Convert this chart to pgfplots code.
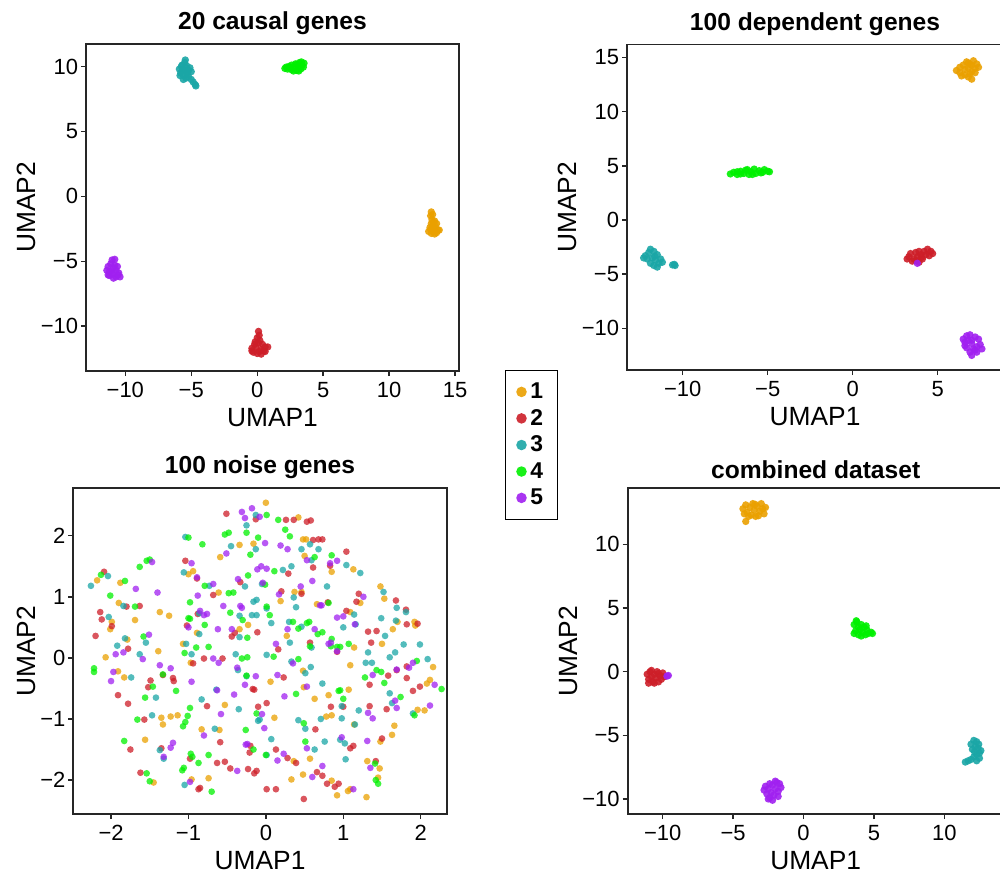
\documentclass[border=0pt]{standalone}
\usepackage{pgfplots}
\pgfplotsset{compat=1.18}
\usepackage{fontspec}
\setmainfont{Liberation Sans}

\definecolor{c1}{RGB}{234,160,0}
\definecolor{c2}{RGB}{205,30,40}
\definecolor{c3}{RGB}{26,166,166}
\definecolor{c4}{RGB}{0,240,0}
\definecolor{c5}{RGB}{160,32,240}

\pgfplotsset{
  umap/.style={
    scale only axis,
    axis line style={line width=1pt, black!85},
    tick style={line width=0.8pt, black!85},
    tick align=outside, tick pos=left,
    major tick length=1mm,
    minor tick num=0,
    tick label style={font=\fontsize{12.5}{15}\selectfont},
    yticklabel style={inner xsep=1.5pt},
    label style={font=\fontsize{15}{18}\selectfont},
    ylabel shift=-0.8mm,
    xlabel style={yshift=0.2mm},
    title style={font=\bfseries\fontsize{14}{16}\selectfont, yshift=-1.5mm},
    xlabel={UMAP1}, ylabel={UMAP2},
    clip=true,
  },
  pts/.style={only marks, mark=*, mark size=1.9pt, color=#1,
    mark options={draw opacity=0, fill opacity=0.75}},
  blob/.style={only marks, mark=*, mark size=2.1pt, color=#1,
    mark options={draw opacity=0, fill opacity=0.9}},
}

\begin{document}
\begin{tikzpicture}

% ---------------- 20 causal genes ----------------
\begin{axis}[umap,
  at={(17.2mm,-74.2mm)}, anchor=south west,
  width=74.6mm, height=65.4mm,
  xmin=-12.98, xmax=15.3, ymin=-13.45, ymax=11.73,
  xtick={-10,-5,0,5,10,15}, xticklabels={−10,−5,0,5,10,15},
  ytick={-10,-5,0,5,10}, yticklabels={−10,−5,0,5,10},
  title={20 causal genes},
  legend style={at={(1.194,-0.226)}, anchor=center, draw=black, line width=0.8pt,
    font=\bfseries\fontsize{13}{15}\selectfont, row sep=0.2mm,
    inner xsep=2.2mm, inner ysep=1.8mm},
  legend cell align=left,
  legend image code/.code={\fill[#1, mark size=3pt] plot[mark=*] coordinates {(0.2cm,0cm)};},
]
\addplot[blob=c1] coordinates {(13.2,-1.2) (13.15,-1.5) (13.3,-1.4) (13.25,-1.8) (13.35,-2.0) (13.2,-2.1) (13.45,-1.9) (13.1,-2.4) (13.3,-2.3) (13.5,-2.3) (13.6,-2.1) (13.7,-2.6) (13.5,-2.6) (13.3,-2.7) (13.0,-2.7) (13.2,-2.85) (13.45,-2.9) (13.8,-2.6) (13.6,-2.8) (13.4,-2.45) (13.15,-2.55)};
\addlegendentry{1}
\addplot[blob=c2] coordinates {(0.1,-10.4) (0.15,-10.7) (0.0,-10.9) (0.2,-11.1) (-0.2,-11.4) (0.1,-11.3) (0.4,-11.4) (0.6,-11.6) (0.8,-11.6) (-0.4,-11.7) (-0.1,-11.6) (0.3,-11.8) (0.5,-11.9) (-0.3,-12.0) (0.0,-12.1) (0.3,-12.15) (0.6,-11.95) (-0.4,-11.9) (0.15,-11.95) (-0.15,-11.2)};
\addlegendentry{2}
\addplot[blob=c3] coordinates {(-5.9,9.8) (-5.8,9.5) (-5.7,10.1) (-5.6,9.3) (-5.5,9.7) (-5.5,10.3) (-5.4,9.9) (-5.3,9.4) (-5.2,9.7) (-5.1,9.9) (-5.6,9.0) (-5.4,9.1) (-5.85,9.3) (-5.65,9.75) (-5.35,10.05) (-5.45,10.5) (-5.0,9.6) (-5.2,9.2) (-5.0,9.0) (-4.85,8.8) (-4.7,8.6) (-4.65,8.5) (-5.75,10.0) (-5.3,9.55)};
\addlegendentry{3}
\addplot[blob=c4] coordinates {(2.1,9.85) (2.3,9.8) (2.4,10.0) (2.6,9.75) (2.6,10.1) (2.8,9.9) (2.9,10.2) (3.0,9.7) (3.1,10.0) (3.2,10.3) (3.3,9.8) (3.4,10.1) (3.5,9.95) (3.55,10.25) (2.75,9.65) (3.15,9.65) (2.5,9.95) (3.35,10.35) (3.0,10.15) (2.2,9.95)};
\addlegendentry{4}
\addplot[blob=c5] coordinates {(-11.3,-5.4) (-11.1,-5.2) (-11.0,-4.9) (-10.8,-4.85) (-10.9,-5.5) (-11.2,-5.8) (-11.4,-5.7) (-11.0,-6.0) (-10.7,-5.7) (-10.5,-5.9) (-10.4,-6.2) (-10.7,-6.2) (-10.9,-6.3) (-11.2,-6.1) (-10.6,-5.4) (-10.8,-5.3) (-11.3,-6.05) (-10.55,-6.05) (-11.0,-5.75)};
\addlegendentry{5}
\end{axis}

% ---------------- 100 dependent genes ----------------
\begin{axis}[umap,
  at={(125.4mm,-74.0mm)}, anchor=south west,
  width=75.2mm, height=65.1mm,
  xmin=-13.28, xmax=8.84, ymin=-13.85, ymax=16.2,
  xtick={-10,-5,0,5}, xticklabels={−10,−5,0,5},
  ytick={-10,-5,0,5,10,15}, yticklabels={−10,−5,0,5,10,15},
  title={100 dependent genes},
]
\addplot[blob=c1] coordinates {(6.1,13.8) (6.3,14.1) (6.3,13.6) (6.5,14.3) (6.6,13.9) (6.6,13.4) (6.8,14.5) (6.8,14.0) (6.8,13.2) (7.0,14.3) (7.0,13.7) (7.1,14.7) (7.2,14.0) (7.3,14.4) (7.4,14.1) (7.0,13.0) (6.9,13.5) (6.4,13.3) (7.2,13.6) (6.7,14.6) (6.9,14.35)};
\addplot[blob=c2] coordinates {(3.3,-3.4) (3.4,-3.1) (3.6,-3.6) (3.7,-3.0) (3.8,-3.4) (3.9,-3.9) (3.5,-3.8) (4.0,-3.2) (4.1,-3.6) (4.2,-2.9) (4.3,-3.2) (4.4,-2.7) (4.6,-2.9) (4.7,-3.1) (3.9,-2.9) (4.5,-3.3) (3.2,-3.6) (3.75,-3.75) (4.05,-3.45)};
\addplot[blob=c3] coordinates {(-12.2,-3.3) (-12.0,-3.0) (-11.9,-2.7) (-11.7,-2.9) (-11.5,-3.2) (-11.8,-3.5) (-12.1,-3.6) (-11.6,-3.7) (-11.3,-3.6) (-11.4,-4.0) (-11.7,-4.2) (-11.9,-4.0) (-11.5,-4.35) (-11.2,-3.9) (-12.3,-3.5) (-11.65,-3.35) (-10.6,-4.15) (-10.45,-4.2) (-10.5,-4.1)};
\addplot[blob=c4] coordinates {(-7.2,4.25) (-7.0,4.4) (-6.8,4.2) (-6.6,4.5) (-6.4,4.3) (-6.3,4.6) (-6.1,4.2) (-6.0,4.45) (-5.8,4.7) (-5.7,4.3) (-5.5,4.55) (-5.3,4.4) (-5.2,4.65) (-5.0,4.5) (-4.9,4.45) (-6.6,4.25) (-5.9,4.2) (-5.4,4.35) (-6.8,4.45) (-6.2,4.65)};
\addplot[blob=c5] coordinates {(6.5,-11.0) (6.6,-11.3) (6.7,-10.7) (6.9,-10.6) (6.8,-11.1) (7.0,-11.4) (7.2,-10.8) (7.4,-11.0) (7.5,-11.5) (7.6,-11.9) (7.3,-11.7) (7.1,-11.9) (6.9,-12.2) (6.7,-11.8) (6.6,-11.6) (7.0,-12.5) (7.3,-12.2) (7.0,-11.1) (7.2,-12.0) (3.8,-4.0)};
\end{axis}

% ---------------- 100 noise genes ----------------
\begin{axis}[umap,
  at={(14.67mm,-162.8mm)}, anchor=south west,
  width=74.67mm, height=65.13mm,
  xmin=-2.487, xmax=2.336, ymin=-2.556, ymax=2.776,
  xtick={-2,-1,0,1,2}, xticklabels={−2,−1,0,1,2},
  ytick={-2,-1,0,1,2}, yticklabels={−2,−1,0,1,2},
  title={100 noise genes},
]
\addplot[pts=c1] table {
0.00 2.54
0.42 2.30
0.48 1.94
0.52 1.94
-0.16 1.87
-0.34 1.85
-0.59 1.65
0.50 1.67
0.85 1.41
1.13 1.45
-0.94 1.42
-1.00 1.37
-2.18 1.27
1.48 1.17
1.53 0.97
1.22 0.90
-1.88 1.23
-1.90 0.90
-1.99 0.59
-2.01 0.47
-1.69 0.62
-1.37 0.75
-1.25 0.69
-1.79 0.30
-2.07 0.01
-1.39 0.11
-1.91 -0.22
-1.83 -0.32
-1.35 -0.98
-1.33 -1.09
-1.23 -0.96
-1.14 -0.94
-1.56 -1.34
-1.45 -2.04
-0.96 -1.99
-0.74 -1.97
-0.83 -1.17
-0.60 -1.18
0.36 -1.69
0.33 -1.99
0.48 -1.91
0.57 -1.65
0.85 -2.01
0.92 -2.25
1.06 -2.18
1.09 -2.15
1.31 -1.69
1.30 -2.28
1.45 -1.96
1.47 -1.81
1.48 -1.37
1.63 -1.26
1.66 -1.11
1.96 -0.85
2.05 -0.86
2.12 -0.36
2.08 -0.42
2.16 -0.15
1.50 0.23
1.64 0.47
1.70 0.59
1.92 0.59
1.93 0.53
1.09 0.75
1.14 0.17
1.09 -0.12
1.07 -0.52
-0.23 0.54
-0.34 0.47
0.19 0.93
0.37 1.08
0.46 1.08
0.66 0.88
0.27 0.36
0.48 -0.21
0.06 -0.39
0.49 -0.48
0.63 -0.67
0.81 -0.61
0.78 -0.96
0.85 -0.94
1.14 -1.09
0.11 -0.98
-0.53 -0.77
-0.97 -0.08
-1.07 0.23
-0.89 0.41
-0.61 1.07
};
\addplot[pts=c2] table {
-0.51 2.36
-0.13 2.27
0.26 2.26
0.36 2.26
0.53 2.23
0.58 2.25
0.61 1.93
0.68 1.94
0.73 1.94
1.04 1.74
-1.04 1.59
0.61 1.48
0.83 1.51
0.29 1.38
-0.89 1.30
-2.09 1.41
-0.33 1.24
1.68 0.94
1.20 1.05
1.17 0.92
-1.80 0.84
-1.63 0.85
-2.14 0.75
-2.12 0.63
-1.99 0.52
-2.20 0.36
-1.78 0.15
-1.33 -0.28
-1.49 -0.37
-1.52 -0.48
-1.20 -0.33
-1.19 -0.38
-1.91 -0.61
-1.78 -0.75
-1.57 -1.01
-1.75 -1.50
-1.35 -1.48
-1.62 -1.88
-0.87 -2.15
-0.85 -2.13
-0.98 -1.65
-0.63 -1.72
-0.59 -1.38
-0.53 -1.70
-0.46 -1.81
-0.23 -1.82
-0.15 -1.89
-0.12 -1.85
-0.20 -1.44
-0.21 -1.55
0.01 -2.15
0.13 -2.15
0.13 -1.50
0.28 -1.64
0.39 -1.72
0.49 -2.31
0.66 -1.87
0.73 -1.93
0.79 -2.06
0.89 -2.11
0.94 -2.06
1.42 -1.69
1.09 -1.48
1.13 -1.44
1.50 -1.32
1.56 -0.84
1.69 -0.20
1.82 -0.33
1.90 -0.54
1.99 -0.47
1.82 -0.14
1.58 -0.29
1.34 -0.44
1.36 0.25
1.32 0.43
1.82 0.55
1.96 0.56
1.81 0.79
1.04 0.77
1.43 0.44
0.92 0.10
0.46 1.05
0.80 0.91
0.20 1.09
0.16 0.14
0.57 0.25
0.23 -0.32
0.84 -0.80
1.00 -0.80
1.34 -0.79
0.64 -1.17
-0.10 -0.80
0.01 -0.74
-0.17 -0.51
-0.15 -0.52
-0.56 -0.01
-0.76 -0.79
-0.94 -0.09
-0.80 -0.01
-1.02 0.53
-0.88 0.72
-0.68 1.03
-0.44 0.35
-0.40 0.41
-0.11 0.42
};
\addplot[pts=c3] table {
-0.13 2.34
-0.25 2.17
-1.04 1.98
-0.45 1.83
0.57 1.86
0.46 1.78
-0.13 1.78
0.68 1.78
0.59 1.60
1.04 1.52
0.33 1.50
1.22 1.39
0.22 1.44
-1.06 1.40
-2.26 1.18
-2.04 1.34
-0.27 1.17
-0.73 1.18
-0.05 1.21
0.79 1.17
1.52 1.08
-1.84 0.85
-2.03 0.67
-1.55 0.25
-1.92 0.20
-1.82 0.32
-1.63 0.06
-1.74 -0.32
-1.42 -0.65
-1.47 -0.94
-1.37 -1.51
-1.32 -1.65
-1.05 -2.08
-0.66 -1.16
0.01 -1.59
0.63 -1.50
1.03 -1.66
0.96 -1.34
1.02 -1.40
1.63 -0.74
1.90 -0.91
2.09 -0.02
1.99 0.22
1.78 0.22
1.67 0.09
1.60 0.01
1.60 -0.58
1.29 -0.08
1.37 -0.08
1.32 0.09
1.54 0.36
1.68 0.61
1.49 0.65
1.69 0.82
1.81 0.75
1.16 0.55
1.14 0.71
1.00 0.50
-0.34 0.69
-0.18 0.70
-0.16 0.92
-0.12 0.95
-0.12 0.70
-0.34 0.34
0.07 0.57
0.01 0.81
0.36 0.99
0.39 0.83
0.30 0.59
0.46 0.51
0.31 0.25
0.59 0.17
0.01 0.05
0.33 -0.06
0.58 -0.15
0.51 -0.25
0.73 -0.42
0.71 -1.00
0.98 -0.99
0.98 -0.79
1.20 -0.86
1.15 -1.09
0.76 -1.37
0.51 -1.16
0.42 -1.02
-0.10 -1.03
-0.08 -1.01
0.07 -1.33
-0.35 -0.84
-0.25 -0.30
-0.36 -0.20
-0.39 0.06
-0.83 -0.68
-0.64 -0.52
-0.96 0.06
-1.03 0.23
-0.86 0.39
-0.86 0.73
};
\addplot[pts=c4] table {
0.01 2.34
0.16 2.26
-0.25 2.05
0.25 2.10
0.31 1.99
-0.53 2.02
-0.48 2.05
-1.00 1.97
-0.10 1.97
-0.82 1.86
-0.20 1.69
0.63 1.65
0.85 1.68
-1.54 1.59
-1.50 1.61
-1.63 1.49
0.11 1.42
-0.23 1.35
-2.13 1.36
-0.79 1.18
-0.01 1.20
-1.82 1.26
-2.01 1.02
-1.69 0.84
-1.58 0.35
-2.22 -0.17
-2.22 -0.23
-1.33 -0.27
-1.46 -0.47
-1.16 -0.54
-1.56 -0.65
-1.66 -1.01
-1.07 -1.12
-1.04 -1.05
-1.01 -0.95
-1.83 -1.36
-1.54 -1.89
-1.50 -2.02
-1.08 -1.84
-1.06 -1.80
-0.70 -2.19
-0.97 -1.57
-0.95 -1.62
-0.87 -1.72
-0.74 -1.59
-0.26 -1.18
-0.16 -1.50
0.00 -1.59
0.51 -1.37
1.41 -1.73
1.42 -2.00
1.45 -2.06
1.74 -0.64
1.92 -0.94
2.27 -0.51
1.95 -0.05
1.53 -0.41
1.43 -0.20
1.49 -0.23
1.28 -0.32
1.07 0.23
0.96 0.18
0.85 0.31
-0.42 1.07
-0.46 0.74
-0.30 0.62
-0.24 0.33
0.01 0.84
0.05 0.70
0.35 0.59
0.42 0.48
0.53 0.57
0.56 0.59
0.67 0.39
0.73 0.42
0.57 0.19
0.84 0.19
0.92 0.18
0.10 0.02
0.42 -0.02
0.39 -0.59
0.94 -0.54
0.96 -0.53
1.00 -0.67
0.49 -1.07
-0.12 -0.91
-0.25 -0.29
-0.24 0.01
-0.31 -0.01
-0.98 -0.82
-1.05 0.08
-0.90 0.17
-0.74 0.18
-1.00 0.65
-0.98 0.64
-0.79 0.54
-0.98 0.91
-0.48 1.06
0.81 0.90
};
\addplot[pts=c5] table {
-0.31 2.39
-0.18 2.45
-0.27 2.29
-0.08 2.31
-0.01 1.88
0.19 1.84
0.28 1.78
-0.51 1.71
0.53 1.60
0.92 1.59
-1.47 1.57
-0.96 1.55
0.83 1.55
-0.06 1.50
-0.11 1.45
0.01 1.46
-0.89 1.32
-0.36 1.29
-0.68 1.21
-0.04 1.23
0.45 1.17
1.26 1.00
-1.68 1.13
-1.40 1.07
-1.51 0.38
-1.84 0.09
-1.94 0.06
-1.59 -0.02
-1.97 -0.23
-1.37 -0.12
-1.23 -0.17
-2.00 -0.38
-1.32 -1.62
-1.23 -1.47
-1.20 -1.39
-0.98 -2.03
-0.80 -1.27
-0.37 -1.85
-0.24 -1.41
-0.26 -1.42
0.15 -1.68
0.23 -1.57
0.53 -1.48
0.60 -1.95
0.73 -1.77
1.13 -2.15
1.35 -1.80
0.98 -1.30
1.31 -1.36
1.69 -0.82
1.67 -0.70
1.69 -0.19
2.12 -0.78
2.18 -0.44
1.90 -0.08
1.85 -0.16
1.38 -0.28
1.32 -0.90
1.38 -0.99
1.15 0.55
1.00 0.68
0.92 0.66
0.92 0.11
0.84 0.25
0.81 0.23
-0.55 0.85
-0.33 0.85
-0.31 0.82
-0.44 0.47
0.17 1.04
0.60 1.26
0.70 0.86
0.72 0.86
0.28 0.47
0.13 0.23
0.63 0.47
0.35 -0.09
0.15 -0.28
0.24 -0.63
0.53 -0.47
-0.05 -0.92
-0.02 -1.15
-0.13 -0.30
-0.27 -0.44
-0.37 -0.16
-0.41 -0.60
-0.61 -0.08
-0.68 -0.01
-0.58 -0.92
-0.63 -0.53
-0.96 -0.39
-1.00 0.50
-0.62 0.47
-0.85 0.77
-0.80 0.70
-0.76 0.72
-0.88 1.02
};
\end{axis}

% ---------------- combined dataset ----------------
\begin{axis}[umap,
  at={(125.53mm,-162.8mm)}, anchor=south west,
  width=75.2mm, height=65.13mm,
  xmin=-12.49, xmax=14.22, ymin=-11.18, ymax=14.4,
  xtick={-10,-5,0,5,10}, xticklabels={−10,−5,0,5,10},
  ytick={-10,-5,0,5,10}, yticklabels={−10,−5,0,5,10},
  title={combined dataset},
]
\addplot[blob=c1] coordinates {(-4.3,12.8) (-4.1,13.1) (-4.0,12.5) (-3.8,12.9) (-3.7,12.3) (-3.6,13.2) (-3.5,12.7) (-3.4,12.2) (-3.3,13.0) (-3.1,12.6) (-3.0,13.2) (-2.9,12.8) (-2.7,12.9) (-2.8,12.4) (-3.9,12.2) (-3.2,12.25) (-4.2,12.4) (-4.1,11.8) (-3.45,13.15)};
\addplot[blob=c2] coordinates {(-11.1,-0.2) (-11.0,-0.6) (-10.9,0.0) (-10.8,-0.4) (-10.7,-0.8) (-10.6,-0.2) (-10.5,-0.5) (-10.4,0.0) (-10.3,-0.8) (-10.2,-0.3) (-10.1,-0.6) (-10.0,-0.1) (-9.9,-0.4) (-10.6,-0.9) (-11.0,-0.9) (-10.8,0.1) (-10.3,-0.15)};
\addplot[blob=c3] coordinates {(11.9,-5.7) (12.1,-5.4) (12.3,-5.5) (12.2,-5.9) (12.0,-6.1) (12.4,-6.0) (12.5,-6.4) (12.3,-6.5) (12.1,-6.7) (12.5,-6.8) (12.3,-7.0) (12.6,-6.2) (11.9,-6.9) (11.7,-7.0) (11.5,-7.1) (12.45,-5.7) (12.15,-6.3)};
\addplot[blob=c4] coordinates {(3.6,3.7) (3.7,3.2) (3.8,3.9) (3.9,3.5) (3.9,2.9) (4.0,3.3) (4.1,3.7) (4.2,3.1) (4.3,3.5) (4.4,2.9) (4.5,3.3) (4.6,3.0) (4.8,3.1) (4.9,3.0) (3.6,3.0) (4.1,2.8) (4.45,3.6) (3.75,4.0)};
\addplot[blob=c5] coordinates {(-2.8,-9.3) (-2.7,-9.0) (-2.6,-9.6) (-2.5,-9.2) (-2.4,-9.9) (-2.3,-9.5) (-2.2,-8.9) (-2.1,-9.7) (-2.0,-9.2) (-1.9,-8.7) (-1.8,-9.4) (-1.7,-8.8) (-1.8,-9.8) (-2.2,-10.1) (-2.5,-10.0) (-1.6,-9.1) (-2.4,-8.8) (-2.0,-8.6) (-9.6,-0.3) (-9.7,-0.35)};
\end{axis}

\pgfresetboundingbox
\useasboundingbox (0,0) rectangle (200mm,-175.2mm);
\end{tikzpicture}
\end{document}
